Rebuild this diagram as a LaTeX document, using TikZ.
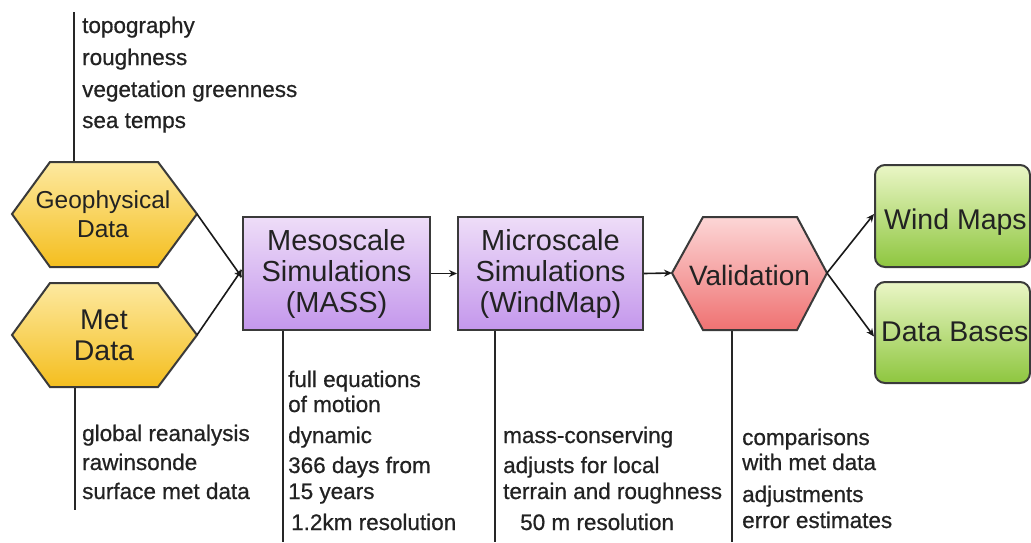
\documentclass[tikz,border=0pt]{standalone}
\usepackage{fontspec}
\setmainfont{Liberation Sans}
\newfontfamily\notefont[FakeBold=0.6]{Liberation Sans}
\usetikzlibrary{arrows.meta}
\definecolor{edge}{HTML}{3A3A3A}
\definecolor{txt}{HTML}{222222}
\definecolor{yelT}{HTML}{FDE9A0}
\definecolor{yelB}{HTML}{F4BE1E}
\definecolor{purT}{HTML}{EEDDF8}
\definecolor{purB}{HTML}{C497EC}
\definecolor{redT}{HTML}{FCD6D6}
\definecolor{redB}{HTML}{EF7272}
\definecolor{grnT}{HTML}{EAF6C6}
\definecolor{grnB}{HTML}{8EC63F}
\tikzset{
  shapeline/.style={draw=edge, line width=2pt, line join=miter},
  yelfill/.style={top color=yelT, bottom color=yelB},
  purfill/.style={top color=purT, bottom color=purB},
  redfill/.style={top color=redT, bottom color=redB},
  grnfill/.style={top color=grnT, bottom color=grnB},
  label/.style={inner sep=0pt, text=txt, align=center},
  note/.style={anchor=base west, inner sep=0pt, text=txt, font=\notefont\fontsize{22.5}{25}\selectfont},
  leader/.style={draw=black!85, line width=1.8pt},
  flow/.style={draw=black!90, line width=1.6pt, -{Stealth[length=8pt,width=7pt]}}
}
\begin{document}
\begin{tikzpicture}[x=1pt,y=-1pt]
\useasboundingbox[fill=white] (0,0) rectangle (1031,542);
% hexagon corner coordinates
\coordinate (geoW) at (12,214);  \coordinate (geoE) at (197,214);
\coordinate (metW) at (12,335);  \coordinate (metE) at (197,335);
\coordinate (valW) at (672,273); \coordinate (valE) at (827,273);
% leader lines (drawn first)
\coordinate (geoTop) at (74,12);
\coordinate (geoTopB) at (74,162);
\draw[leader] (geoTop) -- (geoTopB);
\coordinate (metBot) at (75,510);
\coordinate (metBotT) at (75,387);
\draw[leader] (metBotT) -- (metBot);
\coordinate (mesoBot) at (283,542);
\coordinate (mesoBotT) at (283,330);
\draw[leader] (mesoBotT) -- (mesoBot);
\coordinate (microBot) at (495,542);
\coordinate (microBotT) at (495,330);
\draw[leader] (microBotT) -- (microBot);
\coordinate (valBot) at (732,542);
\coordinate (valBotT) at (732,330);
\draw[leader] (valBotT) -- (valBot);
% hexagons
\path[shapeline, yelfill] (geoW) -- (50,162) -- (158,162) -- (geoE) -- (158,267) -- (50,267) -- cycle;
\path[shapeline, yelfill] (metW) -- (50,283) -- (158,283) -- (metE) -- (158,387) -- (50,387) -- cycle;
\path[shapeline, redfill] (valW) -- (703,217) -- (797,217) -- (valE) -- (797,330) -- (703,330) -- cycle;
\node[label, font=\fontsize{24.5}{29}\selectfont] (geo) at (103,214) {Geophysical\\Data};
\node[label, font=\fontsize{28.5}{31}\selectfont] (met) at (104,335) {Met\\Data};
\node[label, font=\fontsize{28}{31}\selectfont] (val) at (749.5,275) {Validation};
% boxes
\node[shapeline, purfill, minimum width=187pt, minimum height=113pt, inner sep=0pt, align=center,
      text=txt, font=\fontsize{29}{31}\selectfont] (meso) at (336.5,273.5) {Mesoscale\\Simulations\\(MASS)};
\node[shapeline, purfill, minimum width=185pt, minimum height=113pt, inner sep=0pt, align=center,
      text=txt, font=\fontsize{29}{31}\selectfont] (micro) at (550.5,273.5) {Microscale\\Simulations\\(WindMap)};
\node[shapeline, grnfill, rounded corners=10pt, minimum width=155pt, minimum height=102pt, inner sep=0pt] (wind) at (952.5,216) {};
\node[shapeline, grnfill, rounded corners=10pt, minimum width=155pt, minimum height=101pt, inner sep=0pt] (dbase) at (952.5,332.5) {};
\node[label, anchor=west, font=\fontsize{28.5}{31}\selectfont] (windT) at (884,222) {Wind Maps};
\node[label, anchor=west, font=\fontsize{28.5}{31}\selectfont] (dbaseT) at (881,332) {Data Bases};
% flows
\draw[flow] (geoE) -- ([yshift=-4pt]meso.west);
\draw[flow] (metE) -- ([yshift=4pt]meso.west);
\draw[flow] (meso.east) -- (micro.west);
\draw[flow] (micro.east) -- (valW);
\draw[flow] (valE) -- ([yshift=2pt]wind.west);
\draw[flow] (valE) -- ([yshift=-4pt]dbase.west);
% notes
\node[note] (n1) at (82,33) {topography};
\node[note] (n2) at (82,65) {roughness};
\node[note] (n3) at (82,97) {vegetation greenness};
\node[note] (n4) at (82,128) {sea temps};
\node[note] (m1) at (82,441) {global reanalysis};
\node[note] (m2) at (82,470) {rawinsonde};
\node[note] (m3) at (82,499) {surface met data};
\node[note] (s1) at (288,387) {full equations};
\node[note] (s2) at (288,412) {of motion};
\node[note] (s3) at (288,443) {dynamic};
\node[note] (s4) at (288,473) {366 days from};
\node[note] (s5) at (288,499) {15 years};
\node[note] (s6) at (291,530) {1.2km resolution};
\node[note] (w1) at (503,443) {mass-conserving};
\node[note] (w2) at (503,473) {adjusts for local};
\node[note] (w3) at (503,499) {terrain and roughness};
\node[note] (w4) at (520,530) {50 m resolution};
\node[note] (v1) at (742,445) {comparisons};
\node[note] (v2) at (742,470) {with met data};
\node[note] (v3) at (742,502) {adjustments};
\node[note] (v4) at (742,528) {error estimates};
\end{tikzpicture}
\end{document}
